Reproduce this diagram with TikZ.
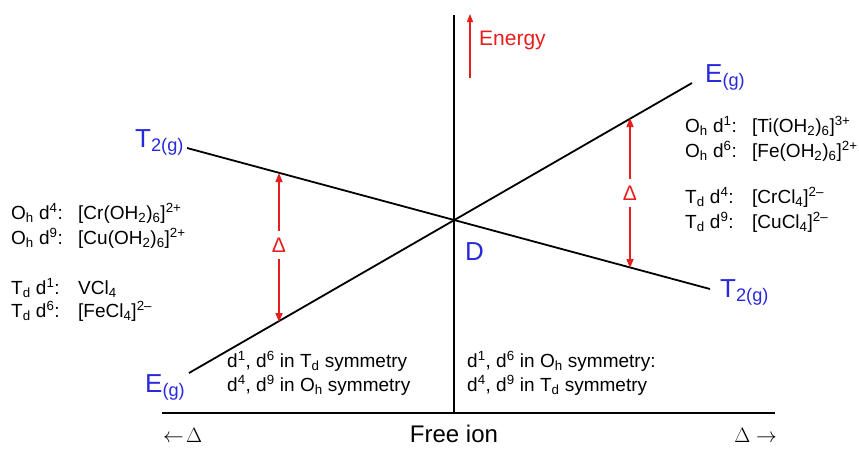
\documentclass[tikz,border=0pt]{standalone}
\usepackage{fontspec}
\setmainfont{Liberation Sans}
\usetikzlibrary{arrows.meta}
\definecolor{lblue}{RGB}{40,40,220}
\definecolor{lred}{RGB}{230,30,30}
\newcommand{\mysub}[1]{\textsubscript{#1}}
\newcommand{\mysup}[1]{\textsuperscript{#1}}
\newcommand{\lab}[1]{\makebox[67pt][l]{#1}}
\begin{document}
\begin{tikzpicture}[x=1pt,y=-1pt,
  line/.style={line width=1.8pt,black},
  state/.style={font=\fontsize{26}{28}\selectfont,text=lblue,anchor=base west,inner sep=0pt},
  txt/.style={font=\fontsize{19}{22}\selectfont,anchor=base west,inner sep=0pt},
  redarr/.style={draw=lred,line width=1.4pt,-{Triangle[length=9pt,width=7pt]}},
  dlt/.style={font=\fontsize{21}{24}\selectfont,text=lred,inner sep=1pt}]
\useasboundingbox (0,0) rectangle (859,448);
% axes
\coordinate (vtop) at (454,15);
\coordinate (vbot) at (454,413);
\coordinate (hl) at (162,413);
\coordinate (hr) at (775,413);
\draw[line] (vtop) -- (vbot);
\draw[line] (hl) -- (hr);
% E and T2 lines
\coordinate (e1) at (189,373);
\coordinate (e2) at (692,83);
\coordinate (t1) at (187,148);
\coordinate (t2) at (710,289);
\draw[line] (e1) -- (e2);
\draw[line] (t1) -- (t2);
% state labels
\node[state] (T2L) at (135,147) {T\mysub{2(g)}};
\node[state] (EgR) at (705,82) {E\mysub{(g)}};
\node[state] (T2R) at (720,297) {T\mysub{2(g)}};
\node[state] (EgL) at (145,392) {E\mysub{(g)}};
\node[state] (D) at (465,260) {D};
% energy
\coordinate (en1) at (470,78);
\coordinate (en2) at (470,14);
\draw[draw=lred,line width=1.2pt,-{Triangle[length=8pt,width=6pt]}] (en1) -- (en2);
\node[font=\fontsize{21}{24}\selectfont,text=lred,anchor=base west,inner sep=0pt] (energy) at (479,45) {Energy};
% delta arrows
\node[dlt] (dl) at (279,245) {Δ};
\coordinate (dlt1) at (279,173);
\coordinate (dlb) at (279,322);
\draw[redarr] (dl.north) ++(0,-6) -- (dlt1);
\draw[redarr] (dl.south) ++(0,6) -- (dlb);
\node[dlt] (dr) at (630,193) {Δ};
\coordinate (drt) at (630,118);
\coordinate (drb) at (630,268);
\draw[redarr] (dr.north) ++(0,-6) -- (drt);
\draw[redarr] (dr.south) ++(0,6) -- (drb);
% left block
\node[txt] (l1) at (11,219) {\lab{O\mysub{h} d\mysup{4}:}[Cr(OH\mysub{2})\mysub{6}]\mysup{2+}};
\node[txt] (l2) at (11,244) {\lab{O\mysub{h} d\mysup{9}:}[Cu(OH\mysub{2})\mysub{6}]\mysup{2+}};
\node[txt] (l3) at (11,294) {\lab{T\mysub{d} d\mysup{1}:}VCl\mysub{4}};
\node[txt] (l4) at (11,317) {\lab{T\mysub{d} d\mysup{6}:}[FeCl\mysub{4}]\mysup{2–}};
% right block
\node[txt] (r1) at (685,132) {\lab{O\mysub{h} d\mysup{1}:}[Ti(OH\mysub{2})\mysub{6}]\mysup{3+}};
\node[txt] (r2) at (685,157) {\lab{O\mysub{h} d\mysup{6}:}[Fe(OH\mysub{2})\mysub{6}]\mysup{2+}};
\node[txt] (r3) at (685,203) {\lab{T\mysub{d} d\mysup{4}:}[CrCl\mysub{4}]\mysup{2–}};
\node[txt] (r4) at (685,228) {\lab{T\mysub{d} d\mysup{9}:}[CuCl\mysub{4}]\mysup{2–}};
% bottom texts
\node[txt] (b1) at (227,367) {d\mysup{1}, d\mysup{6} in T\mysub{d} symmetry};
\node[txt] (b2) at (227,391) {d\mysup{4}, d\mysup{9} in O\mysub{h} symmetry};
\node[txt] (b3) at (467,367) {d\mysup{1}, d\mysup{6} in O\mysub{h} symmetry:};
\node[txt] (b4) at (467,391) {d\mysup{4}, d\mysup{9} in T\mysub{d} symmetry};
% axis labels
\node[font=\fontsize{24}{26}\selectfont,anchor=base,inner sep=0pt] (free) at (454,442) {Free ion};
\node[font=\fontsize{20}{24}\selectfont,anchor=base west,inner sep=0pt] (la) at (163,442) {$\leftarrow\!\Delta$};
\node[font=\fontsize{20}{24}\selectfont,anchor=base east,inner sep=0pt] (ra) at (777,442) {$\Delta\rightarrow$};
\end{tikzpicture}
\end{document}
